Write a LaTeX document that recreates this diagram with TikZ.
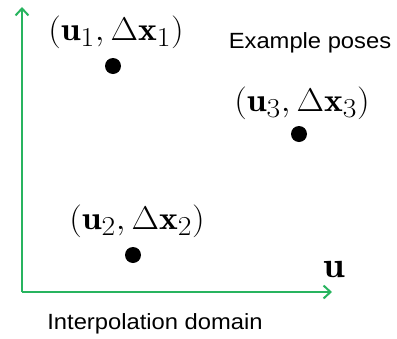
\documentclass[tikz,border=0pt]{standalone}
\usepackage{fontspec}
\newfontfamily\arialfont{Liberation Sans}
\usetikzlibrary{arrows.meta}
\definecolor{axisgreen}{RGB}{40,180,95}
\begin{document}
\begin{tikzpicture}[x=1pt,y=-1pt,
  axisline/.style={draw=axisgreen,line width=2pt,-{Straight Barb[length=7pt,width=13pt,line width=2pt]}},
  posedot/.style={circle,fill=black,inner sep=0pt,minimum size=16pt},
  poselabel/.style={inner sep=0pt,anchor=base,yscale=1.32,xscale=1.43,font=\fontsize{24.88}{30}\selectfont},
  plaintext/.style={inner sep=0pt,anchor=base,xscale=1.08,font=\arialfont\fontsize{22}{26}\selectfont},
  axislabel/.style={inner sep=0pt,anchor=base,yscale=1.45,xscale=1.56,font=\fontsize{24.88}{30}\selectfont}]
\useasboundingbox (0,0) rectangle (397,338);
\coordinate (origin) at (22,292);
\coordinate (xend) at (332,292);
\coordinate (yend) at (22,7);
\draw[axisline] (origin) -- (xend);
\draw[axisline] (origin) -- (yend);
\node[posedot] (d1) at (113,66) {};
\node[posedot] (d2) at (133,255) {};
\node[posedot] (d3) at (299,134) {};
\node[poselabel] (l1) at (116,40) {$(\mathbf{u}_1,\Delta\mathbf{x}_1)$};
\node[poselabel] (l3) at (302,111) {$(\mathbf{u}_3,\Delta\mathbf{x}_3)$};
\node[poselabel] (l2) at (137,229) {$(\mathbf{u}_2,\Delta\mathbf{x}_2)$};
\node[axislabel] (ul) at (334,277) {$\mathbf{u}$};
\node[plaintext] (ex) at (310,48) {Example poses};
\node[plaintext] (dom) at (155,329) {Interpolation domain};
\end{tikzpicture}
\end{document}
